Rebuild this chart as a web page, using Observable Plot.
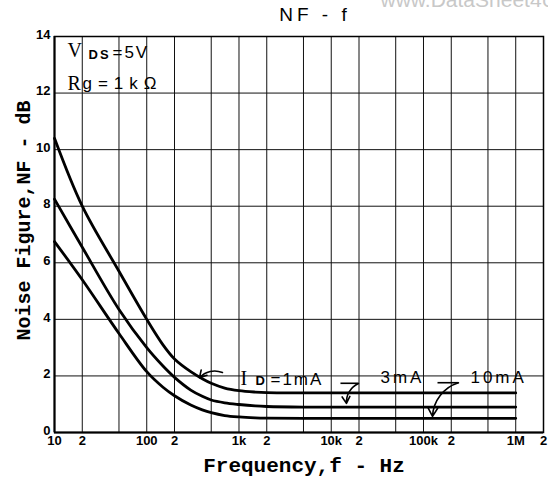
<!DOCTYPE html>
<html>
<head>
<meta charset="utf-8">
<script src="https://cdn.jsdelivr.net/npm/d3@7"></script>
<script src="https://cdn.jsdelivr.net/npm/@observablehq/plot@0.6"></script>
<style>
  html, body { margin: 0; padding: 0; background: #fff; }
  #chart svg { display: block; }
</style>
</head>
<body>
<div id="chart"></div>
<script>
// ---- data ----
const freqs  = [10, 20, 50, 100, 150, 200, 300, 400, 500, 700, 1000, 1500, 2000, 5000, 100000, 1000000];
const nf1mA  = [10.4, 8.0, 5.7, 4.0, 3.1, 2.6, 2.15, 1.9, 1.74, 1.57, 1.48, 1.43, 1.41, 1.40, 1.40, 1.40];
const nf3mA  = [8.25, 6.55, 4.35, 3.0, 2.35, 1.95, 1.5, 1.28, 1.15, 1.05, 0.99, 0.94, 0.92, 0.90, 0.90, 0.90];
const nf10mA = [6.75, 5.4, 3.5, 2.15, 1.6, 1.3, 0.97, 0.8, 0.7, 0.6, 0.55, 0.52, 0.51, 0.50, 0.50, 0.50];

const xTicks = [10, 20, 50, 100, 200, 500, 1e3, 2e3, 5e3, 1e4, 2e4, 5e4, 1e5, 2e5, 5e5, 1e6, 2e6];
const xTickLabels = ["10", "2", "5", "100", "2", "5", "1k", "2", "5", "10k", "2", "5", "100k", "2", "5", "1M", "2"];
const yTicks = [0, 2, 4, 6, 8, 10, 12, 14];

const title = "NF - f";
const xLabel = "Frequency,f - Hz";
const yLabel = "Noise Figure,NF - dB";
const watermark = "www.DataSheet4U.com";

// annotation texts and their anchor points (data units)
const serifTexts = ["V", "R", "I"];
const serifF = [13.8, 13.8, 1040];
const serifV = [13.5, 12.34, 1.89];
const subTexts = ["DS", "D"];
const subF = [23.4, 1510];
const subV = [13.36, 1.82];
const sansTexts = ["=5V", "g=1kΩ", "=1mA", "3mA", "10mA"];
const sansF = [42.5, 20.1, 2193, 34200, 323000];
const sansV = [13.45, 12.34, 1.87, 1.94, 1.94];
// leader dashes
const dashF1 = [12590, 141900];
const dashF2 = [19730, 239300];
const dashV = [1.74, 1.76];
// leader arrows
const arrF1 = [662, 19730, 239300];
const arrV1 = [2.12, 1.73, 1.76];
const arrF2 = [373, 14620, 125300];
const arrV2 = [1.94, 1.03, 0.57];

// ---- build tables ----
const series = [
  ...freqs.map((f, i) => ({f, nf: nf1mA[i], s: "1mA"})),
  ...freqs.map((f, i) => ({f, nf: nf3mA[i], s: "3mA"})),
  ...freqs.map((f, i) => ({f, nf: nf10mA[i], s: "10mA"}))
];
const tickLabelMap = new Map(xTicks.map((t, i) => [t, xTickLabels[i]]));
const serifData = serifTexts.map((t, i) => ({t, f: serifF[i], v: serifV[i]}));
const subData = subTexts.map((t, i) => ({t, f: subF[i], v: subV[i]}));
const sansData = sansTexts.map((t, i) => ({t, f: sansF[i], v: sansV[i]}));
const dashData = dashV.map((v, i) => ({f1: dashF1[i], f2: dashF2[i], v}));
const arrData = arrV1.map((v, i) => ({f1: arrF1[i], v1: v, f2: arrF2[i], v2: arrV2[i]}));

const plot = Plot.plot({
  width: 548,
  height: 481,
  marginLeft: 54,
  marginRight: 5,
  marginTop: 36,
  marginBottom: 49,
  style: {background: "#fff", color: "#000"},
  x: {type: "log", domain: [10, 2e6]},
  y: {domain: [0, 14]},
  marks: [
    Plot.ruleX(xTicks.slice(1, -1), {stroke: "#111", strokeWidth: 1}),
    Plot.ruleY(yTicks.slice(1, -1), {stroke: "#111", strokeWidth: 1}),
    Plot.frame({stroke: "#000", strokeWidth: 1.5}),
    Plot.ruleX([10], {stroke: "#000", strokeWidth: 2}),
    Plot.ruleY([0], {stroke: "#000", strokeWidth: 2}),
    Plot.axisX({
      ticks: xTicks, tickSize: 0, tickPadding: 3,
      tickFormat: d => tickLabelMap.get(d),
      fontSize: 13, fontWeight: "bold", fontFamily: "Liberation Sans", label: null
    }),
    Plot.axisY({
      ticks: yTicks, tickSize: 0, tickPadding: 4, dy: -2,
      fontSize: 13, fontWeight: "bold", fontFamily: "Liberation Sans", label: null
    }),
    Plot.line(series, {
      x: "f", y: "nf", z: "s", stroke: "#000", strokeWidth: 2.8, curve: "catmull-rom"
    }),
    // annotations
    Plot.text(serifData, {x: "f", y: "v", text: "t", textAnchor: "start",
      fontFamily: "Liberation Serif", fontSize: 20, fill: "#000"}),
    Plot.text(subData, {x: "f", y: "v", text: "t", textAnchor: "start",
      fontFamily: "Liberation Sans", fontSize: 13, fontWeight: "bold", fill: "#000"}),
    Plot.text(sansData, {x: "f", y: "v", text: "t", textAnchor: "start",
      fontFamily: "Liberation Sans", fontSize: 17, fill: "#000"}),
    Plot.link(dashData, {x1: "f1", x2: "f2", y1: "v", y2: "v", stroke: "#000", strokeWidth: 1.6}),
    Plot.arrow(arrData, {x1: "f1", y1: "v1", x2: "f2", y2: "v2", bend: -35,
      stroke: "#000", strokeWidth: 1.6, headLength: 9}),
    // titles and labels
    Plot.text([title], {text: d => d, frameAnchor: "top", dx: 16, dy: -29,
      fontFamily: "Liberation Sans", fontSize: 19, fill: "#000"}),
    Plot.text([watermark], {text: d => d, frameAnchor: "top-left", dx: 326, dy: -30,
      textAnchor: "start", lineAnchor: "bottom",
      fontFamily: "Liberation Sans", fontSize: 21, fill: "#c8c8c8"}),
    Plot.text([xLabel], {text: d => d, frameAnchor: "bottom", dx: 5, dy: 39, textAnchor: "middle",
      fontFamily: "Liberation Mono", fontSize: 21, fontWeight: "bold", fill: "#000"}),
    Plot.text([yLabel], {text: d => d, frameAnchor: "left", dx: -31, dy: -14, rotate: -90,
      textAnchor: "middle",
      fontFamily: "Liberation Mono", fontSize: 20, fontWeight: "bold", fill: "#000"})
  ]
});

document.getElementById("chart").appendChild(plot);

// widen letter spacing of the hand-lettered annotations
const spacing = new Map([[title, "4px"], ["=5V", "2px"], ["g=1kΩ", "6px"], ["=1mA", "2px"],
  ["3mA", "3px"], ["10mA", "3px"], ["DS", "2px"]]);
d3.select(plot).selectAll("text").filter(function () { return spacing.has(this.textContent); })
  .style("letter-spacing", function () { return spacing.get(this.textContent); });
</script>
</body>
</html>
